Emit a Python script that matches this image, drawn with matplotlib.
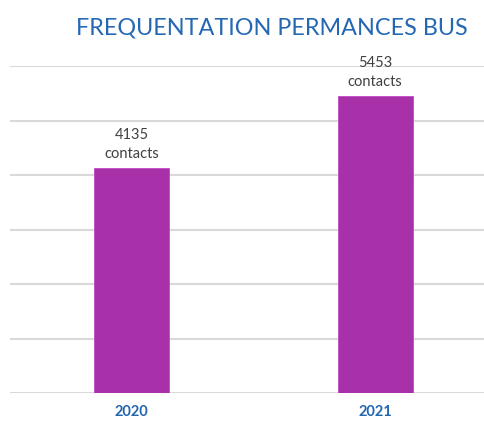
import matplotlib.pyplot as plt

years = ['2020', '2021']
contacts = [4135, 5453]

fig = plt.figure(figsize=(4.84, 4.22), dpi=100)
ax = fig.add_axes([10 / 484, 1 - 393 / 422, 487 / 484, (393 - 66) / 422])

ax.bar(years, contacts, width=0.31, color='#A830A9', edgecolor='#C24BC3', linewidth=0.6, zorder=3)
ax.set_ylim(0, 6000)
ax.set_xlim(-0.5, 1.5)
ax.set_yticks(range(0, 6001, 1000))
ax.yaxis.grid(True, color='#D9D9D9', linewidth=1.5, zorder=0)
ax.tick_params(axis='y', left=False, labelleft=False)
ax.tick_params(axis='x', bottom=False, pad=5)
for s in ax.spines.values():
    s.set_visible(False)

for lbl in ax.get_xticklabels():
    lbl.set_fontfamily('Lato')
    lbl.set_fontweight('bold')
    lbl.set_fontsize(10.5)
    lbl.set_color('#2266B0')

for i, v in enumerate(contacts):
    ax.annotate(f'{v}\ncontacts', (i, v), xytext=(0, 5), textcoords='offset points',
                ha='center', va='bottom', fontsize=10.5, family='Lato',
                color='#404040', linespacing=1.45)

fig.text(272 / 484, 1 - 28 / 422, 'FREQUENTATION PERMANCES BUS', ha='center', va='center',
         fontsize=16.8, family='Lato', color='#2468B4')

fig.savefig('out.png', dpi=100)
